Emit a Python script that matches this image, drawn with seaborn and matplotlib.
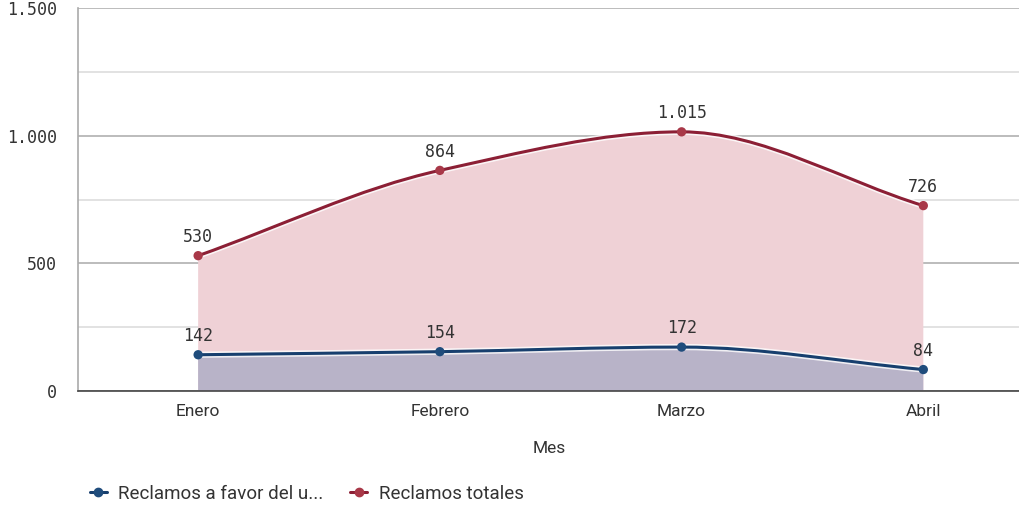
import numpy as np
import pandas as pd
import matplotlib
matplotlib.use("Agg")
import matplotlib.pyplot as plt
from matplotlib.path import Path
from matplotlib.patches import PathPatch
from matplotlib.lines import Line2D
import seaborn as sns

meses = ["Enero", "Febrero", "Marzo", "Abril"]
reclamos_favor = [142, 154, 172, 84]
reclamos_totales = [530, 864, 1015, 726]
ticks_y = [0, 500, 1000, 1500]
ticks_y_menores = [250, 750, 1250]
nombres = ["Reclamos a favor del u...", "Reclamos totales"]

rojo_linea = "#8c1f35"
rojo_punto = "#a83848"
rojo_relleno = "#efd1d6"
azul_linea = "#173f6e"
azul_punto = "#1f4c7c"
azul_relleno = "#b8b3c8"


def fmt(v):
    return f"{v:,}".replace(",", ".")


def curva_monotona(x, y):
    # tangentes tipo Fritsch-Carlson (suavizado monotono, como d3.curveMonotoneX)
    x = np.asarray(x, float)
    y = np.asarray(y, float)
    h = np.diff(x)
    d = np.diff(y) / h
    m = np.zeros_like(y)
    m[0], m[-1] = d[0], d[-1]
    for k in range(1, len(y) - 1):
        if d[k - 1] * d[k] <= 0:
            m[k] = 0
        else:
            m[k] = 2 / (1 / d[k - 1] + 1 / d[k])
    verts = [(x[0], y[0])]
    codes = [Path.MOVETO]
    for k in range(len(x) - 1):
        verts += [(x[k] + h[k] / 3, y[k] + m[k] * h[k] / 3),
                  (x[k + 1] - h[k] / 3, y[k + 1] - m[k + 1] * h[k] / 3),
                  (x[k + 1], y[k + 1])]
        codes += [Path.CURVE4] * 3
    return verts, codes


def area(x, y):
    verts, codes = curva_monotona(x, y)
    verts = verts + [(x[-1], 0), (x[0], 0), (x[0], y[0])]
    codes = codes + [Path.LINETO, Path.LINETO, Path.CLOSEPOLY]
    return Path(verts, codes)


sns.set_style("white")
fig = plt.figure(figsize=(10.2, 5.07), dpi=100)
ax = fig.add_axes([78 / 1020, 116 / 507, 1 - 78 / 1020, 383 / 507])

pos = np.arange(len(meses))

for serie, relleno in [(reclamos_totales, rojo_relleno), (reclamos_favor, azul_relleno)]:
    ax.add_patch(PathPatch(area(pos, serie), facecolor=relleno, edgecolor="none", zorder=1))

for serie, color in [(reclamos_totales, rojo_linea), (reclamos_favor, azul_linea)]:
    verts, codes = curva_monotona(pos, serie)
    ax.add_patch(PathPatch(Path(verts, codes), facecolor="none", edgecolor="white",
                           lw=4.5, alpha=0.8, zorder=3))
    ax.add_patch(PathPatch(Path(verts, codes), facecolor="none", edgecolor=color,
                           lw=2.2, zorder=4, capstyle="round"))

df = pd.DataFrame({
    "pos": np.concatenate([pos, pos]),
    "valor": reclamos_favor + reclamos_totales,
    "serie": [nombres[0]] * len(meses) + [nombres[1]] * len(meses),
})
sns.scatterplot(data=df, x="pos", y="valor", hue="serie",
                palette={nombres[0]: azul_punto, nombres[1]: rojo_punto},
                s=45, edgecolor="none", legend=False, zorder=5, ax=ax)

for serie in [reclamos_favor, reclamos_totales]:
    for p, v in zip(pos, serie):
        ax.annotate(fmt(v), (p, v), xytext=(0, 7), textcoords="offset points",
                    ha="center", va="bottom", fontsize=12,
                    family="DejaVu Sans Mono", color="#333333", zorder=6)

ax.set_xlim(-0.497, 3.4)
ax.set_ylim(0, 1500)
ax.set_yticks(ticks_y)
ax.set_yticklabels([fmt(v) for v in ticks_y], family="DejaVu Sans Mono",
                   fontsize=12, color="#333333")
ax.set_yticks(ticks_y_menores, minor=True)
ax.set_xticks(pos)
ax.set_xticklabels(meses, fontsize=12.5, family="Roboto", color="#333333")
ax.tick_params(axis="y", which="major", length=12, color="#aaaaaa", width=1.2, pad=3)
ax.tick_params(axis="y", which="minor", length=0)
ax.tick_params(axis="x", length=0, pad=9)
ax.set_xlabel("Mes", fontsize=12.5, family="Roboto", color="#333333", labelpad=16)
ax.set_ylabel("")

ax.grid(axis="y", which="major", color="#b0b0b0", lw=1.2, zorder=0)
ax.grid(axis="y", which="minor", color="#dddddd", lw=1.2, zorder=0)
ax.set_axisbelow(True)
for lado in ["top", "right"]:
    ax.spines[lado].set_visible(False)
ax.spines["left"].set_color("#aaaaaa")
ax.spines["left"].set_linewidth(1.2)
ax.spines["bottom"].set_color("#444444")
ax.spines["bottom"].set_linewidth(1.2)
ax.spines["bottom"].set_zorder(6)

handles = [Line2D([0], [0], color=azul_linea, lw=2.2, marker="o", markersize=6,
                  markerfacecolor=azul_punto, markeredgecolor=azul_punto),
           Line2D([0], [0], color=rojo_linea, lw=2.2, marker="o", markersize=6,
                  markerfacecolor=rojo_punto, markeredgecolor=rojo_punto)]
fig.legend(handles, nombres, loc="center left", bbox_to_anchor=(73 / 1020, 1 - 494 / 507),
           frameon=False, ncol=2, handlelength=0.9, handletextpad=0.6, columnspacing=1.45,
           prop={"family": "Roboto", "size": 13.5}, labelcolor="#333333")

fig.savefig("out.png", dpi=100)
